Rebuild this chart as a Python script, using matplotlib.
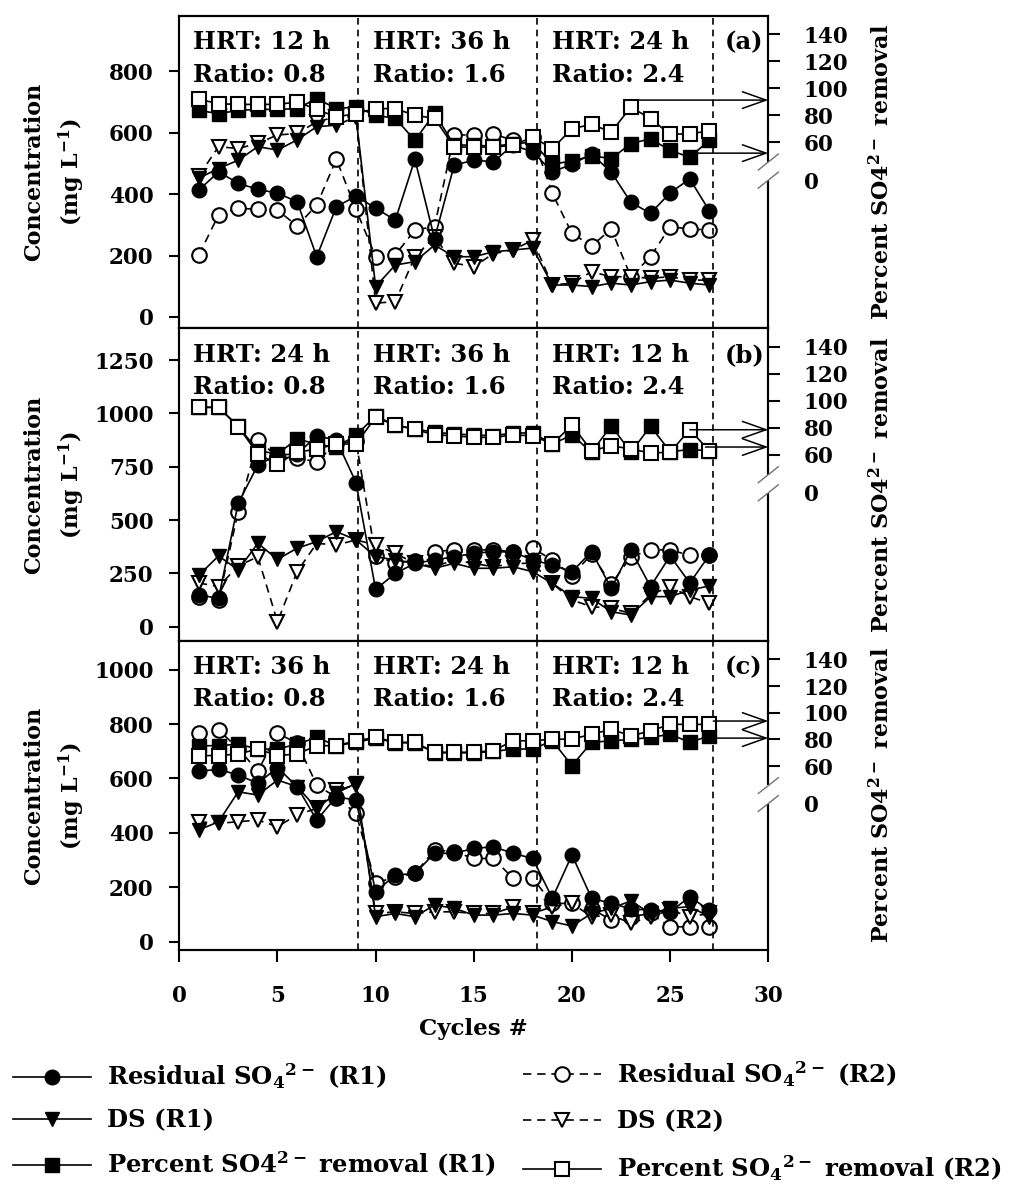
import matplotlib.pyplot as plt
import numpy as np
from matplotlib.transforms import blended_transform_factory

plt.rcParams['font.family'] = ['DejaVu Serif']
plt.rcParams['font.weight'] = 'bold'
plt.rcParams['axes.labelweight'] = 'bold'
plt.rcParams['mathtext.fontset'] = 'dejavuserif'
plt.rcParams['mathtext.default'] = 'bf'

cycles = np.arange(1, 28)

# panel (a)
res_r1_a = [413, 472, 435, 415, 403, 375, 196, 359, 393, 354, 315, 513, 255, 494, 510,
            505, 559, 537, 472, 497, 530, 471, 373, 337, 404, 449, 345]
res_r2_a = [202, 332, 354, 350, 348, 296, 364, 513, 350, 196, 202, 283, 294, 592, 592,
            595, 575, 586, 402, 272, 231, 286, 131, 196, 294, 286, 283]
ds_r1_a = [452, 483, 510, 554, 543, 576, 619, 624, 651, 99, 169, 180, 234, 196, 196,
           212, 218, 224, 104, 104, 99, 110, 104, 115, 120, 110, 104]
ds_r2_a = [460, 554, 548, 565, 592, 597, 635, 651, 651, 45, 50, 196, 260, 175, 164,
           206, 218, 250, 104, 110, 147, 131, 131, 126, 131, 120, 120]
pct_r1_a = [83.7, 81.2, 83.7, 84.4, 84.4, 85.0, 92.4, 85.0, 86.2, 80.0, 77.8, 61.5, 81.5, 58, 58,
            57, 59, 60, 44, 46, 50, 48, 59, 62.7, 54, 49, 61.5]
pct_r2_a = [91.9, 88.6, 88.1, 88.1, 88.1, 89.9, 84.4, 78.8, 81.3, 85.0, 85.0, 80.0, 77.8, 56.5, 56.5,
            56.5, 57.8, 64.0, 55.3, 70.1, 73.3, 67.6, 86.2, 77.5, 65.9, 66.4, 68.4]

# panel (b)
res_r1_b = [149, 133, 579, 758, 805, 810, 894, 876, 676, 175, 250, 297, 313, 328, 344,
            352, 350, 313, 289, 258, 352, 180, 360, 188, 332, 205, 336]
res_r2_b = [140, 125, 539, 876, 797, 790, 774, 860, 870, 330, 300, 310, 352, 360, 360,
            360, 352, 368, 313, 240, 340, 200, 328, 360, 360, 335, 336]
ds_r1_b = [242, 332, 266, 391, 316, 368, 399, 446, 407, 328, 313, 297, 274, 297, 274,
           274, 281, 258, 203, 141, 133, 70, 55, 141, 141, 172, 191]
ds_r2_b = [205, 188, 285, 328, 23, 258, 391, 383, 407, 383, 344, 297, 281, 313, 297,
           281, 297, 297, 203, 125, 94, 86, 63, 150, 188, 141, 110]
pct_r1_b = [95.3, 95.3, 81.3, 63.2, 60.7, 71.9, 68.0, 65.7, 74.8, 88.7, 82.2, 79.3, 76.8, 75.6, 74.8,
            74.3, 76.3, 76.3, 68.1, 74.8, 62.0, 81.7, 62.0, 81.3, 62.5, 64.0, 63.2]
pct_r2_b = [95.3, 95.3, 81.0, 60.7, 53.3, 62.0, 64.4, 68.1, 68.1, 88.0, 82.0, 79.0, 74.8, 74.3, 73.0,
            73.1, 74.8, 74.3, 68.1, 82.2, 63.0, 66.9, 64.4, 61.5, 62.0, 78.8, 63.0]

# panel (c)
res_r1_c = [627, 633, 613, 582, 640, 570, 447, 533, 520, 184, 245, 251, 325, 325, 343,
            349, 325, 306, 160, 319, 160, 141, 121, 116, 110, 165, 116]
res_r2_c = [766, 778, 710, 627, 766, 730, 576, 530, 472, 215, 239, 251, 337, 331, 306,
            306, 233, 233, 141, 141, 121, 80, 92, 104, 55, 55, 55]
ds_r1_c = [411, 441, 551, 539, 594, 570, 490, 546, 582, 92, 104, 92, 135, 123, 98,
           98, 104, 98, 74, 58, 104, 123, 150, 104, 123, 129, 92]
ds_r2_c = [441, 435, 441, 447, 423, 466, 490, 557, 576, 104, 110, 104, 110, 110, 104,
           104, 128, 104, 129, 141, 92, 98, 68, 92, 117, 92, 104]
pct_r1_c = [75.3, 75.3, 76.5, 72.8, 72.8, 76.5, 81.5, 75.3, 77.8, 81.0, 77.5, 77.5, 70.0, 70.0, 70.0,
            71.0, 72.8, 72.8, 79.0, 60.4, 77.8, 79.0, 80.0, 81.5, 83.9, 77.8, 82.7]
pct_r2_c = [67.9, 67.9, 69.1, 72.8, 67.9, 69.1, 75.3, 75.3, 79.0, 81.5, 77.8, 77.8, 70.4, 70.4, 70.4,
            71.6, 79.0, 79.0, 80.2, 80.2, 83.9, 87.6, 82.7, 86.4, 91.3, 91.3, 91.3]

phase_bounds = [9.1, 18.2, 27.2]
phase_x = [0.7, 9.85, 19.0]
hrt = [['12', '36', '24'], ['24', '36', '12'], ['36', '24', '12']]
ratio = ['0.8', '1.6', '2.4']
panel_tags = ['(a)', '(b)', '(c)']
# arrows: (start cycle, percent value)
arrows = [[(23, 91.3), (26, 52.0)], [(26, 78.7), (26.8, 65.9)], [(27.2, 93.8), (27.2, 81.0)]]

left_ticks = [[0, 200, 400, 600, 800], [0, 250, 500, 750, 1000, 1250], [0, 200, 400, 600, 800, 1000]]
left_lims = [(-37, 980), (-67, 1399), (-30, 1105)]

panels = [
    (res_r1_a, res_r2_a, ds_r1_a, ds_r2_a, pct_r1_a, pct_r2_a),
    (res_r1_b, res_r2_b, ds_r1_b, ds_r2_b, pct_r1_b, pct_r2_b),
    (res_r1_c, res_r2_c, ds_r1_c, ds_r2_c, pct_r1_c, pct_r2_c),
]

fig = plt.figure(figsize=(10.24, 11.91), dpi=100)
boxes = [(0.1751, 0.7243, 0.5752, 0.2625),
         (0.1751, 0.4618, 0.5752, 0.2625),
         (0.1751, 0.2024, 0.5752, 0.2594)]

dash = (0, (5, 3.5))
ms = 10.5
for i, box in enumerate(boxes):
    res1, res2, ds1, ds2, p1, p2 = panels[i]
    ax = fig.add_axes(box)
    ax2 = ax.twinx()

    h_res2, = ax.plot(cycles, res2, ls=dash, color='k', lw=1.2, marker='o', ms=ms,
                      mfc='white', mec='k', mew=1.5)
    h_ds2, = ax.plot(cycles, ds2, ls=dash, color='k', lw=1.2, marker='v', ms=ms,
                     mfc='white', mec='k', mew=1.5)
    h_res1, = ax.plot(cycles, res1, ls='-', color='k', lw=1.2, marker='o', ms=ms, mfc='k', mec='k')
    h_ds1, = ax.plot(cycles, ds1, ls='-', color='k', lw=1.2, marker='v', ms=ms, mfc='k', mec='k')
    h_p1, = ax2.plot(cycles, p1, ls='-', color='k', lw=1.2, marker='s', ms=9.5, mfc='k', mec='k')
    h_p2, = ax2.plot(cycles, p2, ls='-', color='k', lw=1.2, marker='s', ms=9.5,
                     mfc='white', mec='k', mew=1.5)

    for xb in phase_bounds:
        ax.axvline(xb, color='k', ls=(0, (4, 3)), lw=1.2)

    ax.set_xlim(0, 30)
    ax.set_ylim(*left_lims[i])
    ax.set_yticks(left_ticks[i])
    ax2.set_ylim(-77.8, 153.8)
    ax2.set_yticks([32, 60, 80, 100, 120, 140])
    ax2.set_yticklabels(['0', '60', '80', '100', '120', '140'])
    ax2.yaxis.get_major_ticks()[0].tick2line.set_visible(False)

    for a in (ax, ax2):
        for s in a.spines.values():
            s.set_linewidth(1.5)
    ax.tick_params(axis='y', direction='out', length=7.5, width=1.5, pad=11, labelsize=15.5)
    ax2.tick_params(axis='y', direction='out', length=8.5, width=1.5, pad=17, labelsize=15.5)
    if i < 2:
        ax.tick_params(axis='x', bottom=False, labelbottom=False)
    else:
        ax.set_xticks([0, 5, 10, 15, 20, 25, 30])
        ax.tick_params(axis='x', direction='out', length=8.5, width=1.5, pad=17, labelsize=15.5)
        ax.set_xlabel('Cycles #', fontsize=16.5, labelpad=8)

    ax.set_ylabel('Concentration\n(mg L$^{-1}$)', fontsize=16, linespacing=1.5)
    ax.yaxis.label.set_va('center')
    ax.yaxis.set_label_coords(-0.211, 0.5)
    ax2.set_ylabel('Percent SO4$^{2-}$ removal', fontsize=16)
    ax2.yaxis.label.set_va('center')
    ax2.yaxis.set_label_coords(1.193, 0.5)

    trans = blended_transform_factory(ax.transData, ax.transAxes)
    for k in range(3):
        ax.text(phase_x[k], 0.893, 'HRT: %s h' % hrt[i][k], transform=trans, fontsize=17.5,
                va='baseline')
        ax.text(phase_x[k], 0.789, 'Ratio: %s' % ratio[k], transform=trans, fontsize=17.5,
                va='baseline')
    ax.text(27.8, 0.893, panel_tags[i], transform=trans, fontsize=17.5, va='baseline')

    for x0, pv in arrows[i]:
        ax2.annotate('', xy=(30, pv), xytext=(x0, pv),
                     arrowprops=dict(arrowstyle='->,head_length=0.85,head_width=0.3',
                                     lw=1.1, color='k', shrinkA=0, shrinkB=0,
                                     mutation_scale=20),
                     annotation_clip=False)

    # axis break on the right spine
    ax2.plot([1, 1], [0.48, 0.526], transform=ax2.transAxes, color='white', lw=3,
             clip_on=False, zorder=5)
    for yc in (0.532, 0.474):
        ax2.plot([0.983, 1.017], [yc - 0.0256, yc + 0.0256], transform=ax2.transAxes,
                 color='0.45', lw=1, clip_on=False, zorder=6)

handles_l = [h_res1, h_ds1, h_p1]
labels_l = ['Residual SO$_4$$^{2-}$ (R1)', 'DS (R1)', 'Percent SO4$^{2-}$ removal (R1)']
handles_r = [h_res2, h_ds2, h_p2]
labels_r = ['Residual SO$_4$$^{2-}$ (R2)', 'DS (R2)', 'Percent SO$_4$$^{2-}$ removal (R2)']
leg_kw = dict(loc='upper left', frameon=False, handlelength=3.2, handletextpad=0.65,
              borderaxespad=0, borderpad=0, fontsize=17.5)
fig.legend(handles_l, labels_l, bbox_to_anchor=(0.0127, 0.1086), labelspacing=0.72, **leg_kw)
fig.legend(handles_r, labels_r, bbox_to_anchor=(0.5107, 0.1108), labelspacing=0.85, **leg_kw)

fig.savefig('out.png', dpi=100)
